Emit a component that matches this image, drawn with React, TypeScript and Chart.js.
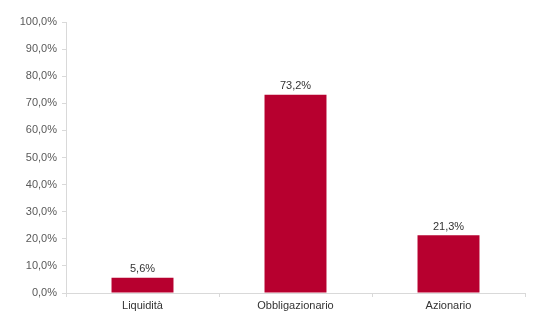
import React, { useEffect, useRef } from "react";
import { Chart, registerables } from "chart.js";

Chart.register(...registerables);

const categories = ["Liquidità", "Obbligazionario", "Azionario"];
const values = [5.6, 73.2, 21.3];
const valueLabels = ["5,6%", "73,2%", "21,3%"];

const fmt = (v: number) => v.toFixed(1).replace(".", ",") + "%";

const barLabels = {
  id: "barLabels",
  afterDatasetsDraw(chart: any) {
    const ctx = chart.ctx;
    const meta = chart.getDatasetMeta(0);
    ctx.save();
    ctx.font = "11px 'Liberation Sans', Arial, sans-serif";
    ctx.fillStyle = "#333333";
    ctx.textAlign = "center";
    ctx.textBaseline = "bottom";
    meta.data.forEach((el: any, i: number) => {
      ctx.fillText(valueLabels[i], el.x, el.y - 3);
    });
    ctx.restore();
  },
};

export default function App() {
  const ref = useRef<HTMLCanvasElement>(null);
  useEffect(() => {
    document.body.style.margin = "0";
    const chart = new Chart(ref.current!, {
      type: "bar",
      data: {
        labels: categories,
        datasets: [
          {
            data: values,
            backgroundColor: "#b7002f",
            barPercentage: 0.81,
            categoryPercentage: 0.5,
          },
        ],
      },
      options: {
        animation: false,
        responsive: false,
        maintainAspectRatio: false,
        layout: { padding: { top: 22, right: 13, left: 0, bottom: 0 } },
        plugins: { legend: { display: false }, tooltip: { enabled: false } },
        scales: {
          x: {
            grid: {
              offset: true,
              drawOnChartArea: false,
              drawTicks: true,
              tickLength: 4,
              color: "#d9d9d9",
            },
            border: { display: true, color: "#d9d9d9" },
            ticks: {
              color: "#333333",
              font: { family: "'Liberation Sans', Arial, sans-serif", size: 11 },
              padding: 2,
            },
            afterFit: (s: any) => {
              s.height = 24;
            },
          },
          y: {
            min: 0,
            max: 100,
            ticks: {
              stepSize: 10,
              color: "#595959",
              padding: 5,
              font: { family: "'Liberation Sans', Arial, sans-serif", size: 11 },
              callback: (v: any) => fmt(Number(v)),
            },
            grid: {
              drawOnChartArea: false,
              drawTicks: true,
              tickLength: 4,
              color: "#d9d9d9",
            },
            border: { display: true, color: "#d9d9d9" },
            afterFit: (s: any) => {
              s.width = 66;
            },
          },
        },
      },
      plugins: [barLabels],
    });
    return () => chart.destroy();
  }, []);
  return <canvas ref={ref} width={538} height={317} style={{ display: "block" }} />;
}
